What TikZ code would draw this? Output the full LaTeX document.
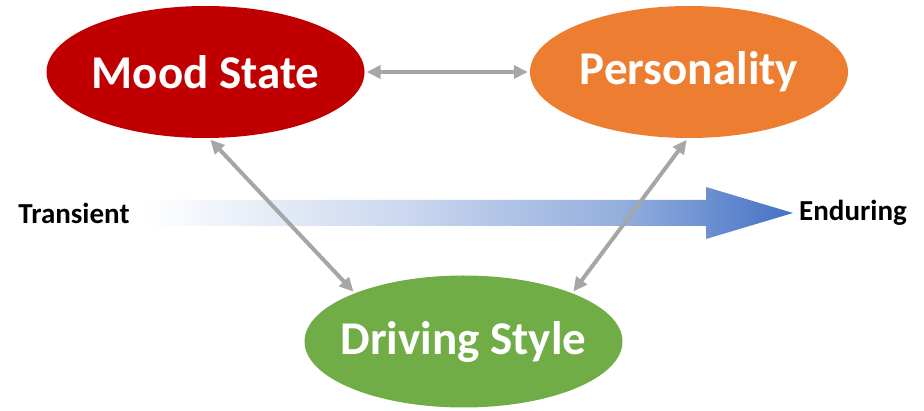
\documentclass[tikz,border=0pt]{standalone}
\usepackage{fontspec}
\setmainfont{Carlito}
\usetikzlibrary{arrows.meta,shapes.geometric}
\definecolor{moodred}{HTML}{C00000}
\definecolor{persorange}{HTML}{ED7D31}
\definecolor{drivegreen}{HTML}{70AD47}
\definecolor{linkgray}{HTML}{A6A6A6}
\definecolor{arrowblue}{HTML}{4472C4}
\pgfdeclarehorizontalshading{fadeblue}{100bp}{color(0bp)=(white); color(25bp)=(white); color(45bp)=(arrowblue!28); color(62bp)=(arrowblue!58); color(75bp)=(arrowblue); color(100bp)=(arrowblue)}
\begin{document}
\begin{tikzpicture}[x=1pt,y=-1pt,>={Triangle[length=14pt,width=13pt]},
	blob/.style={ellipse,minimum width=318pt,minimum height=132pt,inner xsep=-50pt,inner ysep=0pt,text=white,font=\bfseries\fontsize{47}{52}\selectfont},
	link/.style={<->,linkgray,line width=4pt,shorten >=2pt,shorten <=2pt},
	tag/.style={font=\bfseries\fontsize{29}{32}\selectfont}]
	\useasboundingbox (0,0) rectangle (924,411);
	% transient -> enduring
	\path[shading=fadeblue] (143,200)--(706,200)--(706,187)--(793,213)--(706,239)--(706,226)--(143,226)--cycle;
	\node[tag] (trans) at (74,213) {Transient};
	\node[tag] (endur) at (853,213) {Enduring};
	% the three states
	\node[blob,fill=moodred] (mood) at (205.5,72) {Mood State};
	\node[blob,fill=persorange] (pers) at (689,72) {Personality};
	\node[blob,fill=drivegreen] (drive) at (463.5,341.5) {Driving Style};
	\draw[link] (mood.east)--(pers.west);
	\draw[link] (mood.-87)--(drive.156);
	\draw[link] (pers.-91)--(drive.24);
\end{tikzpicture}
\end{document}
